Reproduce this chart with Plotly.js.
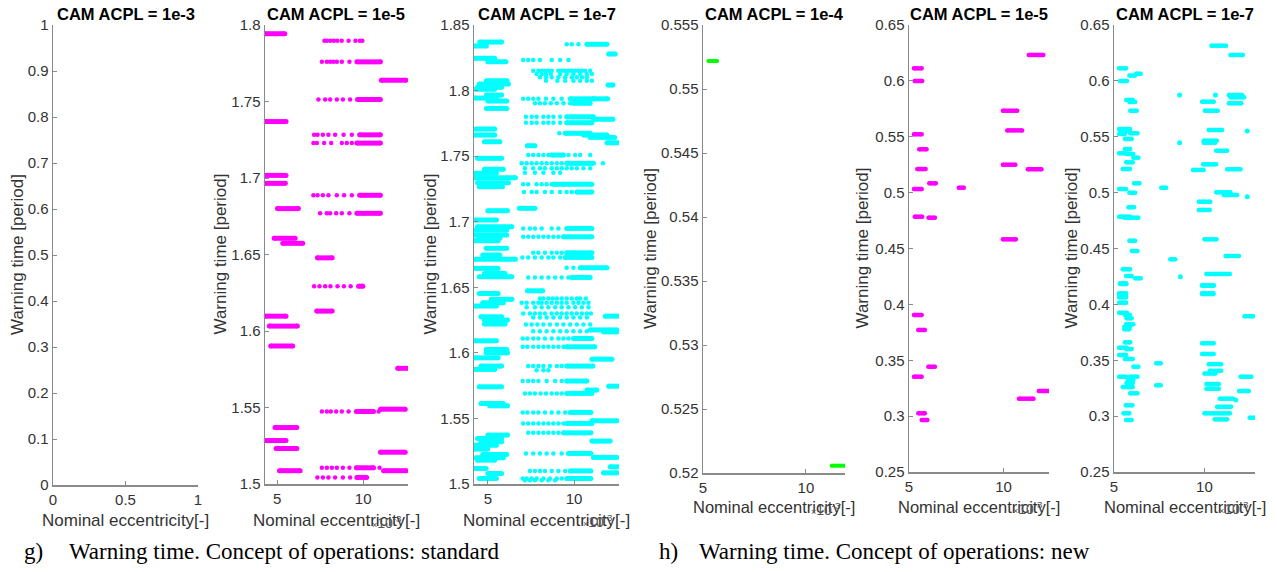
<!DOCTYPE html>
<html>
<head>
<meta charset="utf-8">
<script src="https://cdn.plot.ly/plotly-3.0.1.min.js"></script>
<style>html,body{margin:0;padding:0;background:#fff;}#chart{width:1277px;height:572px;}</style>
</head>
<body>
<div id="chart"></div>
<script>
// ---------- DATA ----------
const panelTitles = ["CAM ACPL = 1e-3", "CAM ACPL = 1e-5", "CAM ACPL = 1e-7", "CAM ACPL = 1e-4", "CAM ACPL = 1e-5", "CAM ACPL = 1e-7"];
const yTitle = "Warning time [period]";
const xTitle = "Nominal eccentricity[-]";
const captionG = "Warning time. Concept of operations: standard";
const captionH = "Warning time. Concept of operations: new";

const p1XTicks = [0, 0.5, 1];
const p1YTicks = [0, 0.1, 0.2, 0.3, 0.4, 0.5, 0.6, 0.7, 0.8, 0.9, 1];
const p2YTicks = [1.5, 1.55, 1.6, 1.65, 1.7, 1.75, 1.8];
const p3YTicks = [1.5, 1.55, 1.6, 1.65, 1.7, 1.75, 1.8, 1.85];
const p4YTicks = [0.52, 0.525, 0.53, 0.535, 0.54, 0.545, 0.55, 0.555];
const p56YTicks = [0.25, 0.3, 0.35, 0.4, 0.45, 0.5, 0.55, 0.6, 0.65];
const eccTicks = [5, 10];

// Panel 2: standard, ACPL 1e-5 — runs of dense points [y, xStart, xEnd] (x in 1e-3)
const std5Runs = [
  [1.7943, 4.3, 5.45], [1.7759, 9.63, 11.0], [1.7639, 11.05, 12.48], [1.7513, 9.67, 11.0],
  [1.7369, 4.3, 5.52], [1.7282, 9.79, 11.0], [1.7228, 9.63, 11.0], [1.7017, 4.3, 5.52],
  [1.6965, 4.3, 5.48], [1.6887, 9.79, 11.0], [1.68, 5.02, 6.24], [1.6769, 9.63, 11.0],
  [1.6606, 4.83, 6.05], [1.6573, 5.33, 6.49], [1.6478, 7.34, 8.2], [1.6293, 9.73, 9.98],
  [1.613, 7.3, 8.2], [1.6097, 4.3, 5.52], [1.6032, 4.55, 6.18], [1.5902, 4.63, 5.91],
  [1.5756, 12.0, 12.7], [1.5474, 9.6, 10.6], [1.5489, 11.0, 12.44], [1.5369, 4.88, 6.15],
  [1.5284, 4.3, 5.52], [1.5232, 4.94, 6.15], [1.5208, 11.0, 12.44], [1.5106, 9.6, 10.6],
  [1.5087, 5.14, 6.34], [1.5087, 11.18, 12.5], [1.5043, 9.63, 10.2]
];
const std5DotY = [1.7897, 1.7759, 1.7513, 1.7282, 1.7228, 1.6887, 1.6769, 1.6293, 1.5474, 1.5106, 1.5043];
const std5DotX = [
  [7.75, 7.9, 8.1, 8.3, 8.5, 8.75, 9.15, 9.55, 9.8, 9.95],
  [7.6, 7.89, 8.08, 8.27, 8.47, 8.76, 9.2],
  [7.4, 7.79, 8.08, 8.47, 8.82, 9.24],
  [7.15, 7.35, 7.66, 7.98, 8.37, 8.86, 9.34],
  [7.11, 7.31, 7.73, 8.14, 8.76, 9.05, 9.34],
  [7.11, 7.35, 7.66, 7.98, 8.47, 8.89, 9.34],
  [7.5, 7.89, 8.08, 8.43, 8.76, 9.2],
  [7.15, 7.46, 7.79, 8.1, 8.51, 8.88, 9.27],
  [7.6, 7.89, 8.12, 8.43, 8.76, 9.15, 10.9],
  [7.6, 7.89, 8.18, 8.47, 8.82, 9.2, 10.95],
  [7.34, 7.66, 7.98, 8.37, 8.82, 9.24]
];

// Panel 3: standard, ACPL 1e-7
const std7Runs = [
  [1.837, 4.53, 5.8], [1.834, 4.25, 4.92], [1.8246, 4.25, 5.4], [1.822, 5.0, 6.05],
  [1.8075, 4.92, 6.12], [1.805, 4.5, 6.2], [1.8025, 4.4, 5.8], [1.801, 4.3, 5.4],
  [1.7966, 4.92, 5.8], [1.7943, 4.25, 5.5], [1.792, 5.0, 6.1], [1.7864, 4.92, 6.1],
  [1.7707, 4.3, 5.4], [1.7661, 4.25, 5.4], [1.761, 4.8, 5.7], [1.7483, 4.4, 5.8],
  [1.74, 4.8, 5.9], [1.7369, 4.25, 5.5], [1.7335, 4.25, 6.6], [1.7297, 4.4, 6.2],
  [1.7267, 4.5, 5.85], [1.7084, 5.0, 6.15], [1.7013, 4.25, 5.5], [1.6962, 4.4, 6.4],
  [1.6936, 4.25, 6.1], [1.6898, 4.25, 6.1], [1.6873, 4.5, 5.7], [1.6855, 4.25, 5.6],
  [1.6797, 4.9, 6.1], [1.6746, 4.7, 5.7], [1.6713, 4.25, 6.6], [1.6644, 4.25, 5.6],
  [1.6606, 4.8, 6.0], [1.658, 4.5, 6.4], [1.6453, 4.5, 5.6], [1.6408, 5.2, 6.4],
  [1.6382, 4.7, 5.9], [1.6357, 4.25, 5.5], [1.6275, 4.6, 5.8], [1.625, 4.8, 6.15],
  [1.622, 4.8, 6.0], [1.6092, 4.25, 5.5], [1.6026, 4.9, 6.1], [1.6, 4.9, 6.15],
  [1.5962, 4.25, 5.6], [1.5899, 4.6, 5.8], [1.5874, 4.25, 5.4], [1.5741, 4.5, 5.8],
  [1.5614, 4.6, 5.9], [1.5596, 5.1, 6.15], [1.5373, 5.0, 6.15], [1.5347, 4.4, 5.8],
  [1.5322, 4.6, 5.8], [1.5296, 4.25, 5.5], [1.5266, 4.2, 5.0], [1.5225, 4.7, 6.1],
  [1.52, 4.3, 5.9], [1.5182, 4.4, 5.4], [1.5118, 4.25, 4.9], [1.508, 5.0, 5.8],
  [1.5042, 4.5, 5.5],
  [1.8353, 10.74, 11.9], [1.8279, 12.0, 12.38], [1.8042, 11.96, 12.25], [1.7937, 9.77, 11.12],
  [1.7937, 11.1, 11.95], [1.7903, 9.96, 10.93], [1.78, 9.57, 11.12], [1.7781, 11.12, 12.25],
  [1.7755, 9.57, 11.03], [1.7674, 9.48, 10.93], [1.7661, 10.54, 11.9], [1.7643, 10.93, 12.35],
  [1.7602, 11.9, 12.67], [1.7579, 7.29, 7.73], [1.7508, 8.7, 9.38], [1.7445, 9.57, 11.12],
  [1.7285, 8.8, 11.03], [1.7226, 10.16, 11.03], [1.7102, 6.82, 7.73], [1.6949, 9.57, 11.03],
  [1.6885, 9.38, 11.03], [1.6763, 9.57, 11.03], [1.6728, 9.48, 11.03], [1.6649, 10.35, 11.9],
  [1.6575, 9.86, 10.93], [1.6473, 7.29, 8.18], [1.628, 11.8, 12.67], [1.6175, 10.93, 12.48],
  [1.616, 11.7, 12.48], [1.611, 9.96, 11.03], [1.6046, 9.57, 11.2], [1.5952, 11.03, 12.19],
  [1.5899, 9.57, 11.09], [1.5785, 9.57, 10.74], [1.5746, 12.0, 12.67], [1.5716, 10.74, 11.32],
  [1.5691, 9.57, 11.03], [1.5546, 9.77, 10.97], [1.5482, 11.03, 12.48], [1.5462, 9.57, 11.03],
  [1.539, 9.38, 10.97], [1.5327, 11.03, 12.09], [1.5233, 9.67, 10.97], [1.5203, 11.12, 12.48],
  [1.5131, 12.09, 12.67], [1.51, 9.77, 10.97], [1.5085, 11.7, 12.48], [1.5042, 9.57, 10.97]
];
const std7DotY = [1.8353, 1.8233, 1.8151, 1.8126, 1.8101, 1.8075, 1.7937, 1.7903, 1.78, 1.7755,
  1.7674, 1.7508, 1.7445, 1.7407, 1.7374, 1.7285, 1.7226, 1.6949, 1.6885, 1.6763, 1.6728, 1.6649,
  1.6575, 1.6415, 1.6382, 1.6347, 1.6301, 1.627, 1.6217, 1.6165, 1.611, 1.6046, 1.5899, 1.5868,
  1.5785, 1.5691, 1.5546, 1.5462, 1.539, 1.5233, 1.51, 1.5042, 1.5029];
const std7DotX = [
  [9.57, 9.87, 10.25],
  [7.05, 7.34, 7.63, 8.02, 8.7, 9.19, 9.67],
  [7.63, 7.93, 8.12, 8.31, 8.51, 8.7, 9.09, 9.28, 9.48, 9.67, 9.86, 10.06, 10.25, 10.45, 10.64, 10.93],
  [7.83, 8.12, 8.37, 8.65, 9.19, 9.57, 9.96, 10.35, 10.74, 11.03],
  [8.02, 8.37, 8.7, 9.09, 9.48, 9.87, 10.16, 10.45, 10.74],
  [8.37, 9.03, 9.48, 9.96, 10.35, 10.74, 11.03],
  [7.05, 7.34, 7.63, 7.93, 8.37, 8.8, 9.28],
  [7.73, 8.02, 8.31, 8.65, 9.0, 9.38, 9.77],
  [7.21, 7.54, 7.83, 8.22, 8.51, 8.8, 9.19],
  [7.21, 7.54, 7.83, 8.22, 8.51, 8.8, 9.19],
  [9.14],
  [7.34, 7.63, 7.93, 8.22, 8.51, 9.67, 10.06, 10.35, 10.93],
  [6.96, 7.25, 7.54, 7.83, 8.12, 8.41, 8.7, 9.0, 9.28, 11.67],
  [7.15, 7.63, 8.02, 8.31, 8.7, 9.0, 9.28, 9.57, 9.86, 10.16, 10.54, 10.93],
  [7.15, 7.73, 8.22, 8.8, 9.19],
  [7.05, 7.34, 7.83, 8.12, 8.41, 8.7],
  [7.09, 7.54, 7.83, 8.31, 8.7, 9.19, 9.57, 9.86],
  [7.05, 7.44, 7.73, 8.12, 8.7, 9.09],
  [7.05, 7.34, 7.63, 7.93, 8.22, 8.51, 8.8, 9.09],
  [7.63, 7.93, 8.31, 8.7, 9.0, 9.28],
  [7.0, 7.34, 7.73, 8.12, 8.51, 8.8, 9.19],
  [9.57, 9.96],
  [7.34, 7.73, 8.12, 8.51, 8.9, 9.28, 9.67],
  [8.02, 8.22, 8.51, 8.76, 9.0, 9.28, 9.57, 9.86, 10.16, 10.35, 10.68],
  [6.96, 7.25, 7.63, 7.93, 8.12, 8.41, 8.7, 9.0, 9.28, 9.57, 9.96, 10.25, 10.54, 10.83],
  [7.25, 7.73, 8.12, 8.51, 8.9, 9.28, 9.67, 10.06, 10.45, 10.83],
  [7.05, 7.44, 7.73, 8.02, 8.31, 8.7, 9.0, 9.28, 9.57, 9.86, 10.16, 10.45, 10.74, 10.97],
  [7.63, 8.02, 8.41, 8.8, 9.19, 9.57, 9.96, 10.35, 10.74],
  [7.21, 7.54, 7.87, 8.22, 8.6, 9.0, 9.38, 9.77, 10.16, 10.54, 10.93],
  [7.63, 8.02, 8.41, 8.8, 9.19, 9.57, 9.96, 10.35, 10.74],
  [7.02, 7.29, 7.63, 7.93, 8.31, 8.7, 9.09, 9.38, 9.67],
  [7.02, 7.29, 7.63, 7.93, 8.22, 8.51, 8.8, 9.09, 9.38],
  [7.34, 7.63, 7.93, 8.22, 8.6, 9.0, 9.28],
  [7.83, 8.22, 8.51],
  [7.02, 7.34, 7.63, 7.93, 8.41, 8.9, 9.28],
  [7.15, 7.44, 7.73, 8.06, 8.37, 8.7, 9.0, 9.28],
  [7.02, 7.29, 7.63, 7.93, 8.31, 8.7, 9.09, 9.48],
  [7.05, 7.34, 7.63, 7.93, 8.22, 8.51, 8.8, 9.09, 9.38],
  [7.34, 7.63, 7.93, 8.22, 8.51, 8.8, 9.09],
  [7.21, 7.63, 8.02, 8.41, 8.8, 9.28],
  [7.44, 7.73, 8.02, 8.31, 8.7, 9.09, 9.48],
  [7.02, 7.25, 7.54, 7.83, 8.22, 8.6, 9.0, 9.28],
  [7.15, 7.44, 7.73, 8.12, 8.51, 8.9]
];

// Panel 4: new, ACPL 1e-4
const new4Runs = [[0.55219, 5.26, 5.69], [0.52057, 11.25, 11.94]];

// Panel 5: new, ACPL 1e-5
const new5Runs = [
  [0.6112, 5.26, 5.67], [0.5999, 5.3, 5.7], [0.5522, 5.26, 5.67], [0.5388, 5.54, 5.93],
  [0.5211, 5.44, 5.88], [0.5032, 5.26, 5.67], [0.5083, 6.07, 6.42], [0.5044, 7.63, 7.9],
  [0.4785, 5.3, 5.7], [0.4776, 6.03, 6.37], [0.6232, 11.33, 12.1], [0.5733, 9.96, 10.72],
  [0.5557, 10.19, 10.98], [0.525, 9.96, 10.62], [0.5209, 11.28, 12.0], [0.4582, 9.96, 10.65],
  [0.3905, 5.26, 5.67], [0.3771, 5.49, 5.84], [0.3442, 6.02, 6.37], [0.3353, 5.26, 5.67],
  [0.3025, 5.49, 5.84], [0.2965, 5.67, 5.97], [0.3156, 10.81, 11.58], [0.3225, 11.86, 12.4]
];

// Panel 6: new, ACPL 1e-7
const new7Runs = [
  [0.6112, 5.28, 5.67], [0.5999, 5.33, 5.72], [0.6047, 5.85, 6.17], [0.6064, 6.22, 6.48],
  [0.5829, 5.67, 6.04], [0.5811, 5.85, 6.17], [0.5733, 5.9, 6.26], [0.5569, 5.28, 5.89],
  [0.5551, 5.33, 5.9], [0.5525, 5.28, 5.6], [0.5531, 5.89, 6.3], [0.548, 5.6, 5.98],
  [0.539, 5.6, 5.9], [0.5352, 5.28, 5.69], [0.5346, 5.72, 6.07], [0.5313, 6.07, 6.35],
  [0.5271, 5.67, 6.04], [0.5211, 5.48, 5.89], [0.5083, 6.11, 6.41], [0.5032, 5.28, 5.67],
  [0.4999, 5.85, 6.17], [0.4869, 5.8, 6.11], [0.4785, 5.28, 5.89], [0.4776, 5.57, 6.35],
  [0.457, 5.85, 6.17], [0.4478, 5.98, 6.3], [0.4314, 5.48, 5.89], [0.4254, 5.67, 5.98],
  [0.4233, 6.17, 6.48], [0.4189, 5.33, 5.67], [0.4099, 5.28, 5.67], [0.4069, 5.28, 5.67],
  [0.4182, 5.33, 5.69], [0.4084, 5.28, 5.67], [0.4063, 5.28, 5.67], [0.4015, 5.28, 5.67],
  [0.3925, 5.28, 5.72], [0.3905, 5.6, 5.89], [0.3875, 5.69, 5.98], [0.3822, 5.67, 6.07],
  [0.38, 5.57, 5.89], [0.3777, 5.57, 5.85], [0.366, 5.6, 5.9], [0.3612, 5.28, 5.69],
  [0.36, 5.67, 5.98], [0.3547, 5.28, 5.67], [0.3511, 5.6, 6.04], [0.3442, 6.07, 6.35],
  [0.3353, 5.28, 5.67], [0.3353, 5.89, 6.3], [0.3323, 5.76, 6.07], [0.3296, 5.69, 6.04],
  [0.326, 5.48, 6.04], [0.3204, 5.89, 6.3], [0.3097, 5.65, 6.02], [0.3025, 5.52, 5.85],
  [0.2965, 5.67, 5.98],
  [0.5044, 7.61, 7.89], [0.4403, 8.11, 8.39], [0.3473, 7.33, 7.59], [0.3276, 7.33, 7.59],
  [0.6315, 10.39, 11.2], [0.6232, 11.44, 12.13], [0.5874, 11.35, 12.09], [0.5853, 11.44, 12.2],
  [0.5814, 9.87, 10.52], [0.5799, 11.35, 12.04], [0.5733, 10.02, 10.74], [0.556, 10.24, 10.98],
  [0.5465, 9.96, 10.69], [0.5447, 9.96, 10.6], [0.5375, 10.65, 11.26], [0.5253, 9.93, 10.65],
  [0.5209, 11.26, 12.0], [0.5203, 9.37, 9.96], [0.5003, 10.65, 11.44], [0.4979, 11.07, 11.82],
  [0.4919, 9.69, 10.33], [0.4845, 9.69, 10.3], [0.4582, 10.0, 10.67], [0.4433, 11.17, 11.91],
  [0.4272, 10.11, 11.41], [0.4171, 9.87, 10.52], [0.4099, 9.87, 10.5],
  [0.4167, 9.87, 10.52], [0.4093, 9.87, 10.5], [0.3652, 9.87, 10.52], [0.3556, 9.87, 10.52],
  [0.3465, 10.24, 10.93], [0.3405, 10.3, 10.93], [0.3381, 10.0, 10.61], [0.3287, 10.11, 10.8],
  [0.3245, 10.11, 10.8], [0.3156, 10.85, 11.59], [0.3084, 10.7, 11.48], [0.3025, 10.0, 10.61],
  [0.3025, 10.72, 11.41], [0.2971, 10.57, 11.26], [0.3894, 12.22, 12.7], [0.3353, 12.0, 12.6],
  [0.3225, 11.91, 12.46], [0.2986, 12.5, 12.93]
];
const new7DotY = [0.5874, 0.5447, 0.4248, 0.5874, 0.5551, 0.4964, 0.3144];
const new7DotX = [[8.63], [8.63], [8.67], [10.61], [12.37], [12.37], [11.74]];

// ---------- COLOURS / STYLE ----------
const MAGENTA = '#ff00ff', CYAN = '#00ffff', GREEN = '#00ff00';
const AXC = '#8a8a8a', TXT = '#333333';
const SANS = 'Liberation Sans, Arial, sans-serif';
const W = 1277, H = 572;

const boxes = [
  [53, 198, 25, 485], [265, 408, 25, 484], [474, 619, 25, 484],
  [703, 845, 25, 473], [909, 1049, 25, 472], [1114, 1255, 25, 472]
];
const xRanges = [[0, 1], [4.3, 12.6], [4.2, 12.6], [5, 11.9], [5, 12.4], [5, 12.8]];
const yRanges = [[0, 1], [1.5, 1.8], [1.5, 1.85], [0.52, 0.555], [0.25, 0.65], [0.25, 0.65]];

function axId(k) { return k === 1 ? '' : String(k); }
function runTrace(runs, k, color, w) {
  const x = [], y = [];
  runs.forEach(r => { x.push(r[1], r[2], null); y.push(r[0], r[0], null); });
  return { type: 'scatter', mode: 'lines+markers', x, y, xaxis: 'x' + axId(k), yaxis: 'y' + axId(k),
    line: { color, width: w }, marker: { color, size: w }, connectgaps: false, hoverinfo: 'skip', showlegend: false, cliponaxis: true };
}
function dotTrace(ys, xs, k, color, s) {
  const x = [], y = [];
  ys.forEach((yy, i) => xs[i].forEach(xx => { x.push(xx); y.push(yy); }));
  return { type: 'scatter', mode: 'markers', x, y, xaxis: 'x' + axId(k), yaxis: 'y' + axId(k),
    marker: { color, size: s }, hoverinfo: 'skip', showlegend: false, cliponaxis: true };
}

const traces = [
  { type: 'scatter', mode: 'markers', x: [], y: [], xaxis: 'x', yaxis: 'y', showlegend: false },
  runTrace(std5Runs, 2, MAGENTA, 5), dotTrace(std5DotY, std5DotX, 2, MAGENTA, 4.5),
  runTrace(std7Runs, 3, CYAN, 5), dotTrace(std7DotY, std7DotX, 3, CYAN, 4.5),
  runTrace(new4Runs, 4, GREEN, 4),
  runTrace(new5Runs, 5, MAGENTA, 4.5),
  runTrace(new7Runs, 6, CYAN, 4.5), dotTrace(new7DotY, new7DotX, 6, CYAN, 5)
];

const yTickSets = [p1YTicks, p2YTicks, p3YTicks, p4YTicks, p56YTicks, p56YTicks];
const xTickSets = [p1XTicks, eccTicks, eccTicks, eccTicks, eccTicks, eccTicks];

const layout = {
  width: W, height: H, margin: { l: 0, r: 0, t: 0, b: 0 },
  paper_bgcolor: '#fff', plot_bgcolor: 'rgba(0,0,0,0)',
  showlegend: false, annotations: []
};

boxes.forEach((b, i) => {
  const k = i + 1, sfx = axId(k);
  const common = {
    showline: true, linecolor: AXC, linewidth: 1.5, mirror: false, showgrid: false, zeroline: false,
    ticks: 'inside', ticklen: 4, tickwidth: 1, tickcolor: AXC,
    tickfont: { family: SANS, size: 15, color: TXT }, fixedrange: true
  };
  layout['xaxis' + sfx] = Object.assign({}, common, {
    domain: [b[0] / W, b[1] / W], range: xRanges[i], anchor: 'y' + sfx,
    tickvals: xTickSets[i], ticktext: xTickSets[i].map(String)
  });
  layout['yaxis' + sfx] = Object.assign({}, common, {
    domain: [1 - b[3] / H, 1 - b[2] / H], range: yRanges[i], anchor: 'x' + sfx,
    tickvals: yTickSets[i], ticktext: yTickSets[i].map(String)
  });
  const cx = (b[0] + b[1]) / 2;
  layout.annotations.push({ xref: 'paper', yref: 'paper', x: cx / W, y: 1 - 14 / H, xanchor: 'center', yanchor: 'middle',
    text: '<b>' + panelTitles[i] + '</b>', showarrow: false, font: { family: SANS, size: 16.5, color: '#000' } });
});

const yTitleX = [17, 220, 430, 650, 862, 1071];
yTitleX.forEach((px, i) => {
  const b = boxes[i];
  layout.annotations.push({ xref: 'paper', yref: 'paper', x: px / W, y: 1 - ((b[2] + b[3]) / 2) / H, xanchor: 'center', yanchor: 'middle',
    text: yTitle, textangle: -90, showarrow: false, font: { family: SANS, size: 17, color: TXT } });
});
const xTitleY = [520, 520, 520, 507, 507, 507];
boxes.forEach((b, i) => {
  layout.annotations.push({ xref: 'paper', yref: 'paper', x: ((b[0] + b[1]) / 2) / W, y: 1 - xTitleY[i] / H,
    xanchor: 'center', yanchor: 'middle', text: xTitle, showarrow: false, font: { family: SANS, size: i < 3 ? 17 : 16.5, color: TXT } });
});
const expPos = [[387, 522], [598, 521], [826, 509], [1028, 508], [1234, 508]];
expPos.forEach(p => {
  layout.annotations.push({ xref: 'paper', yref: 'paper', x: p[0] / W, y: 1 - p[1] / H, xanchor: 'center', yanchor: 'middle',
    text: '<span style="font-size:9px">×</span>10<sup>-3</sup>', showarrow: false, font: { family: SANS, size: 14, color: '#555' } });
});
const SERIF = 'Liberation Serif, Times New Roman, serif';
[[22, 'g)'], [67, captionG], [657, 'h)'], [697, captionH]].forEach(c => {
  layout.annotations.push({ xref: 'paper', yref: 'paper', x: c[0] / W, y: 1 - 551 / H, xanchor: 'left', yanchor: 'middle',
    text: c[1], showarrow: false, font: { family: SERIF, size: 23, color: '#000' } });
});

Plotly.newPlot('chart', traces, layout, { staticPlot: true, displayModeBar: false });
</script>
</body>
</html>
